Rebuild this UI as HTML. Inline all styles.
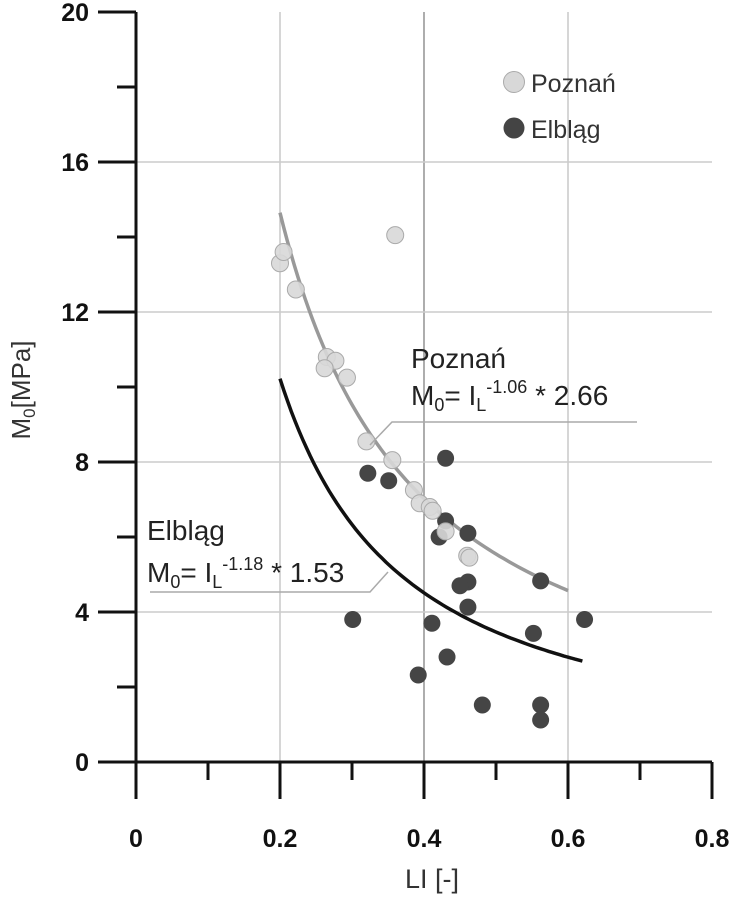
<!DOCTYPE html>
<html><head><meta charset="utf-8"><style>
html,body{margin:0;padding:0;background:#fff}
svg{display:block;font-family:"Liberation Sans",sans-serif}
</style></head><body>
<svg id="chart" width="734" height="900" viewBox="0 0 734 900">
<g id="grid"></g>
<g id="curves"></g>
<g id="pts"></g>
<g id="axes"></g>
<g>
<text x="411" y="368" font-size="28" fill="#222">Poznań</text>
<text x="411" y="405" font-size="28" fill="#222">M<tspan font-size="18" dy="6">0</tspan><tspan dy="-6">= I</tspan><tspan font-size="18" dy="6">L</tspan><tspan font-size="18" dy="-18">-1.06</tspan><tspan dy="12"> * 2.66</tspan></text>
<polyline points="370,445 392,422 637,422" fill="none" stroke="#aaa" stroke-width="1.5"/>
</g>
<g>
<text x="147" y="540" font-size="28" fill="#222">Elbląg</text>
<text x="147" y="582" font-size="28" fill="#222">M<tspan font-size="18" dy="6">0</tspan><tspan dy="-6">= I</tspan><tspan font-size="18" dy="6">L</tspan><tspan font-size="18" dy="-18">-1.18</tspan><tspan dy="12"> * 1.53</tspan></text>
<polyline points="150,592 370,592 388,572" fill="none" stroke="#aaa" stroke-width="1.5"/>
</g>
<g>
<circle cx="514" cy="82" r="10.5" fill="#d8d8d8" stroke="#aaa"/>
<text x="531" y="92" font-size="25" fill="#333">Poznań</text>
<circle cx="514" cy="128" r="10.5" fill="#444"/>
<text x="531" y="138" font-size="25" fill="#333">Elbląg</text>
</g>
<text x="432" y="888" font-size="27" text-anchor="middle" fill="#333">LI [-]</text>
<text transform="translate(30,390) rotate(-90)" font-size="26" text-anchor="middle" fill="#333">M<tspan font-size="17" dy="5">0</tspan><tspan dy="-5">[MPa]</tspan></text>
</svg>
<script>
const poznanX=[0.20,0.205,0.222,0.36,0.265,0.277,0.262,0.293,0.32,0.356,0.386,0.394,0.408,0.412,0.43,0.46,0.463];
const poznanY=[13.3,13.6,12.6,14.05,10.8,10.7,10.5,10.25,8.55,8.05,7.25,6.9,6.8,6.7,6.15,5.5,5.45];
const elblagX=[0.43,0.322,0.351,0.43,0.421,0.461,0.562,0.461,0.45,0.461,0.301,0.623,0.411,0.552,0.432,0.392,0.481,0.562,0.562];
const elblagY=[8.1,7.7,7.5,6.43,6.0,6.1,4.83,4.8,4.7,4.13,3.8,3.8,3.7,3.43,2.8,2.32,1.52,1.52,1.12];
const xTicks=[0,0.2,0.4,0.6,0.8];
const xTickLabels=["0","0.2","0.4","0.6","0.8"];
const yTicks=[0,4,8,12,16,20];
const yTickLabels=["0","4","8","12","16","20"];
const fitPoznan=[2.66,-1.06,0.2,0.6];
const fitElblag=[1.53,-1.18,0.2,0.62];
const NS="http://www.w3.org/2000/svg";
const sx=v=>136+720*v, sy=v=>762-37.5*v;
function mk(tag,attrs,parent){const e=document.createElementNS(NS,tag);for(const k in attrs)e.setAttribute(k,attrs[k]);parent.appendChild(e);return e;}
const grid=document.getElementById('grid'),axes=document.getElementById('axes'),pts=document.getElementById('pts'),curves=document.getElementById('curves');
[0.2,0.4,0.6].forEach(v=>{const l=mk('line',{x1:sx(v),x2:sx(v),y1:12,y2:762,stroke:v===0.4?'#777':'#bbb','stroke-width':1.2},grid);

});
[4,8,12,16].forEach(v=>{const l=mk('line',{x1:136,x2:712,y1:sy(v),y2:sy(v),stroke:'#ccc','stroke-width':1.5},grid);

});
function curve(p,color,name){let d='';for(let i=0;i<=80;i++){const x=p[2]+(p[3]-p[2])*i/80;const y=p[0]*Math.pow(x,p[1]);d+=(i?'L':'M')+sx(x).toFixed(1)+','+sy(y).toFixed(1);}
const c=mk('path',{d:d,fill:'none',stroke:color,'stroke-width':3.5},curves);

}
curve(fitElblag,'#111','elblag-fit-curve');
curve(fitPoznan,'#999','poznan-fit-curve');
elblagX.forEach((x,i)=>{const c=mk('circle',{cx:sx(x),cy:sy(elblagY[i]),r:8.5,fill:'#454545'},pts);

});
poznanX.forEach((x,i)=>{const c=mk('circle',{cx:sx(x),cy:sy(poznanY[i]),r:8.5,fill:'#d8d8d8',stroke:'#aaa','stroke-width':1,'fill-opacity':0.9},pts);

});
mk('line',{x1:136,x2:136,y1:12,y2:762,stroke:'#111','stroke-width':3},axes);
mk('line',{x1:98,x2:712,y1:762,y2:762,stroke:'#111','stroke-width':3},axes);
xTicks.forEach((v,i)=>{mk('line',{x1:sx(v),x2:sx(v),y1:762,y2:799,stroke:'#111','stroke-width':3},axes);
if(i<xTicks.length-1)mk('line',{x1:sx(v+0.1),x2:sx(v+0.1),y1:762,y2:780,stroke:'#111','stroke-width':3},axes);
const t=mk('text',{x:sx(v),y:847,'font-size':25,'font-weight':'bold','text-anchor':'middle',fill:'#111'},axes);t.textContent=xTickLabels[i];

});
yTicks.forEach((v,i)=>{mk('line',{x1:98,x2:136,y1:sy(v),y2:sy(v),stroke:'#111','stroke-width':3},axes);
if(i<yTicks.length-1)mk('line',{x1:117,x2:136,y1:sy(v+2),y2:sy(v+2),stroke:'#111','stroke-width':3},axes);
const t=mk('text',{x:89,y:sy(v)+9,'font-size':25,'font-weight':'bold','text-anchor':'end',fill:'#111'},axes);t.textContent=yTickLabels[i];

});
</script>
</body></html>
